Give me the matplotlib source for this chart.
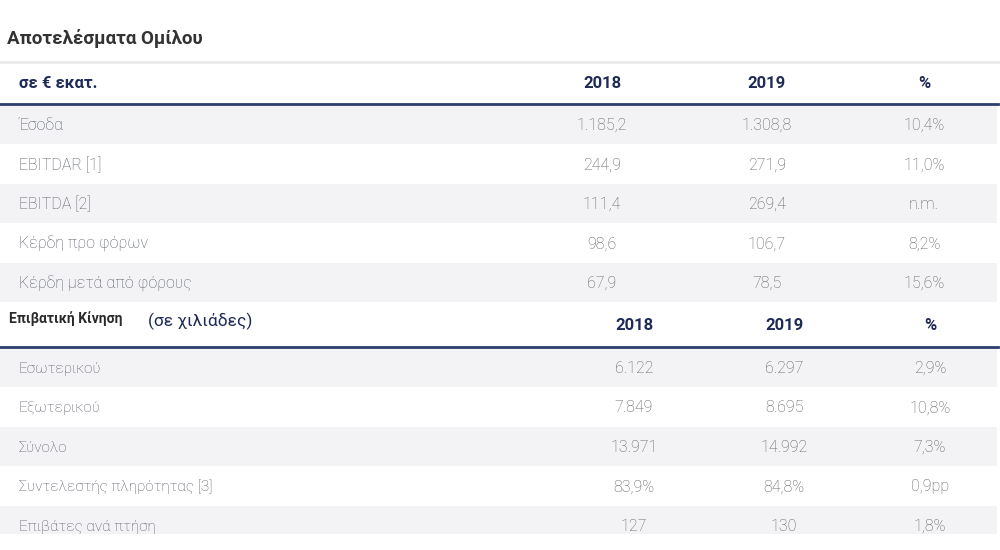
import matplotlib.pyplot as plt

plt.rcParams['font.family'] = ['Roboto', 'DejaVu Sans']

# --- data ---
title = "Αποτελέσματα Ομίλου"
fin_unit = "σε € εκατ."
fin_cols = ["2018", "2019", "%"]
fin_labels = ["Έσοδα", "EBITDAR [1]", "EBITDA [2]", "Κέρδη προ φόρων", "Κέρδη μετά από φόρους"]
fin_2018 = ["1.185,2", "244,9", "111,4", "98,6", "67,9"]
fin_2019 = ["1.308,8", "271,9", "269,4", "106,7", "78,5"]
fin_pct = ["10,4%", "11,0%", "n.m.", "8,2%", "15,6%"]

pax_title = "Επιβατική Κίνηση"
pax_unit = "(σε χιλιάδες)"
pax_cols = ["2018", "2019", "%"]
pax_labels = ["Εσωτερικού", "Εξωτερικού", "Σύνολο", "Συντελεστής πληρότητας [3]", "Επιβάτες ανά πτήση"]
pax_2018 = ["6.122", "7.849", "13.971", "83,9%", "127"]
pax_2019 = ["6.297", "8.695", "14.992", "84,8%", "130"]
pax_pct = ["2,9%", "10,8%", "7,3%", "0,9pp", "1,8%"]

NAVY = "#1f2b57"
LINE = "#2c3d6e"
BAND = "#f3f3f5"
LABEL_TXT = "#555968"
GREY_TXT = "#5e5e5e"
ROW_H = 39.5

fig = plt.figure(figsize=(10, 5.5), dpi=100)
ax = fig.add_axes([0, 0, 1, 1])
ax.set_xlim(0, 1000)
ax.set_ylim(550, 0)
ax.axis("off")


def draw_rows(labels, c1, c2, c3, y_first, xs, label_size, clip_bottom=None):
    for i, lab in enumerate(labels):
        yc = y_first + i * ROW_H
        if i % 2 == 0:
            top = yc - ROW_H / 2
            bot = yc + ROW_H / 2
            if clip_bottom is not None:
                bot = min(bot, clip_bottom)
            ax.barh((top + bot) / 2, 997, height=bot - top, left=0,
                    color=BAND, zorder=0)
        ax.text(19, yc + 1, lab, fontsize=label_size, color=LABEL_TXT,
                fontweight="light", va="center", ha="left")
        for x, val in zip(xs, (c1[i], c2[i], c3[i])):
            ax.text(x, yc + 1, val, fontsize=11.5, color=GREY_TXT,
                    fontweight="light", va="center", ha="center")


# title
ax.text(7, 38, title, fontsize=13.5, fontweight="bold", color="#333333",
        va="center", ha="left")
ax.plot([0, 1000], [62, 62], color="#ebebeb", lw=2)

# first table header
fin_x = [602, 767, 924]
ax.text(19, 83, fin_unit, fontsize=12, fontweight="bold", color=NAVY,
        va="center", ha="left")
for x, c in zip(fin_x, fin_cols):
    ax.text(x, 83, c, fontsize=12, fontweight="bold", color=NAVY,
            va="center", ha="center")
ax.plot([0, 998], [103.5, 103.5], color=LINE, lw=2)
draw_rows(fin_labels, fin_2018, fin_2019, fin_pct, 124.5, fin_x, 11.5)

# second table header
pax_x = [634, 784, 930]
ax.text(9, 319, pax_title, fontsize=10, fontweight="bold", color="#2a2a2a",
        va="center", ha="left")
ax.text(148, 321, pax_unit, fontsize=12.5, color=NAVY, va="center", ha="left")
for x, c in zip(pax_x, pax_cols):
    ax.text(x, 325, c, fontsize=12, fontweight="bold", color=NAVY,
            va="center", ha="center")
ax.plot([0, 998], [346.5, 346.5], color=LINE, lw=2)
draw_rows(pax_labels, pax_2018, pax_2019, pax_pct, 367.5, pax_x, 11,
          clip_bottom=534)

fig.savefig("out.png", dpi=100, facecolor="white")
